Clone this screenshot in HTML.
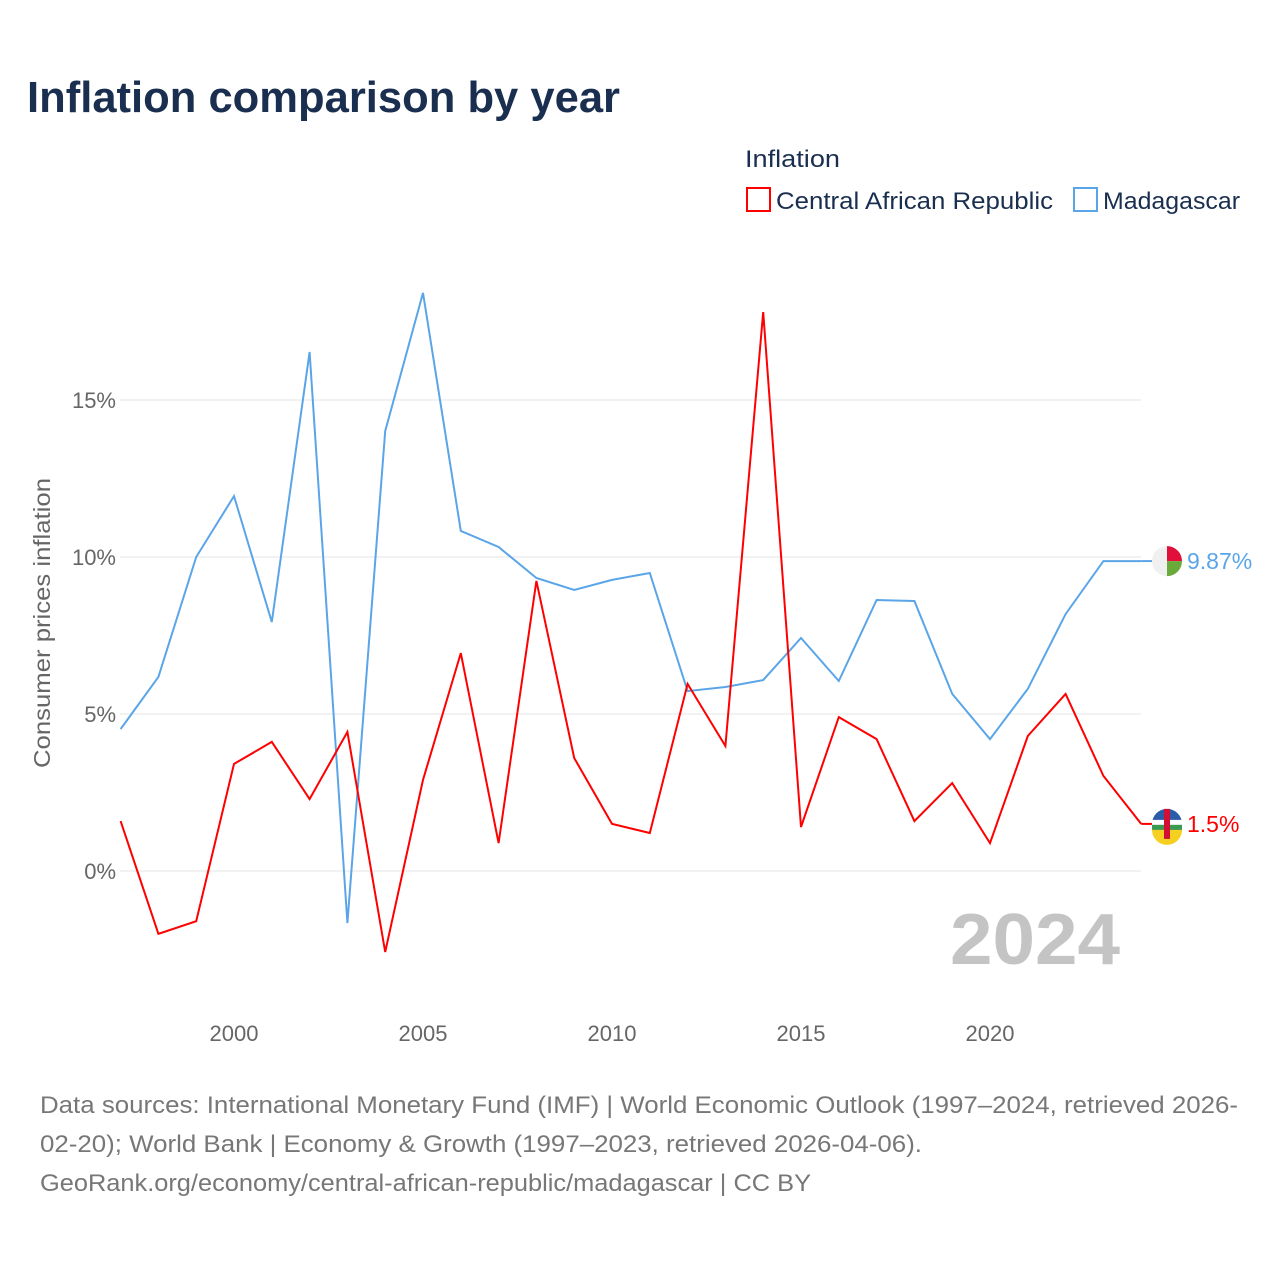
<!DOCTYPE html>
<html><head><meta charset="utf-8"><style>
body{margin:0;background:#fff;font-family:"Liberation Sans",sans-serif}
#wrap{position:relative;width:1280px;height:1280px;overflow:hidden}
</style></head><body>
<div id="wrap">
<svg id="chart" width="1280" height="1280">
<text x="27" y="112" font-size="44" font-weight="bold" fill="#1a2f50" textLength="593" lengthAdjust="spacingAndGlyphs">Inflation comparison by year</text>
<text x="745" y="167" font-size="24" fill="#1a2f50" textLength="95" lengthAdjust="spacingAndGlyphs">Inflation</text>
<g><rect x="747" y="188" width="23" height="23" fill="none" stroke="#ff0000" stroke-width="2"/><text x="776" y="209" font-size="24" fill="#1a2f50" textLength="277" lengthAdjust="spacingAndGlyphs">Central African Republic</text></g>
<g><rect x="1074" y="188" width="23" height="23" fill="none" stroke="#5aa5e8" stroke-width="2"/><text x="1103" y="209" font-size="24" fill="#1a2f50" textLength="137" lengthAdjust="spacingAndGlyphs">Madagascar</text></g>
<text transform="translate(50,623) rotate(-90)" text-anchor="middle" font-size="23" fill="#666" textLength="290" lengthAdjust="spacingAndGlyphs">Consumer prices inflation</text>
<text x="1120" y="964" text-anchor="end" font-size="72" font-weight="bold" fill="#c4c4c4" textLength="170" lengthAdjust="spacingAndGlyphs">2024</text>
<g id="grid"></g><g id="series"></g>
<text x="40" y="1113" font-size="24" fill="#777" textLength="1198" lengthAdjust="spacingAndGlyphs">Data sources: International Monetary Fund (IMF) | World Economic Outlook (1997–2024, retrieved 2026-</text>
<text x="40" y="1152" font-size="24" fill="#777" textLength="882" lengthAdjust="spacingAndGlyphs">02-20); World Bank | Economy &amp; Growth (1997–2023, retrieved 2026-04-06).</text>
<text x="40" y="1191" font-size="24" fill="#777" textLength="771" lengthAdjust="spacingAndGlyphs">GeoRank.org/economy/central-african-republic/madagascar | CC BY</text>
</svg></div>
<script>
const years=[1997,1998,1999,2000,2001,2002,2003,2004,2005,2006,2007,2008,2009,2010,2011,2012,2013,2014,2015,2016,2017,2018,2019,2020,2021,2022,2023,2024];
const madagascar=[4.52,6.18,10.0,11.94,7.93,16.53,-1.66,14.01,18.41,10.83,10.32,9.33,8.95,9.27,9.49,5.73,5.86,6.08,7.42,6.05,8.63,8.60,5.64,4.20,5.80,8.18,9.87,9.87];
const car=[1.59,-2.0,-1.6,3.41,4.11,2.29,4.43,-2.58,2.9,6.94,0.89,9.24,3.6,1.5,1.21,5.96,3.98,17.8,1.4,4.9,4.2,1.59,2.8,0.89,4.3,5.64,3.03,1.5];
const yTicks=[0,5,10,15];
const xTicks=[2000,2005,2010,2015,2020];
const ns="http://www.w3.org/2000/svg";
const xS=y=>234+(y-2000)*37.8;
const yS=v=>871-v*31.4;
const grid=document.getElementById('grid'),ser=document.getElementById('series');
function mk(tag,attrs,parent){const e=document.createElementNS(ns,tag);for(const k in attrs)e.setAttribute(k,attrs[k]);parent.appendChild(e);return e;}
yTicks.forEach(t=>{
 const l=mk('line',{x1:120,x2:1141,y1:yS(t),y2:yS(t),stroke:'#e6e6e6','stroke-width':1},grid);
 
 
 const tx=mk('text',{x:116,y:yS(t)+8,'text-anchor':'end','font-size':22,fill:'#666'},grid);
 tx.textContent=t+'%';
 
 
});
xTicks.forEach(t=>{
 const tx=mk('text',{x:xS(t),y:1041,'text-anchor':'middle','font-size':22,fill:'#666'},grid);
 tx.textContent=t;
 
 
});
function line(vals,color,name){
 const d=vals.map((v,i)=>(i?'L':'M')+xS(years[i]).toFixed(1)+' '+yS(v).toFixed(1)).join(' ');
 const p=mk('path',{d:d,fill:'none',stroke:color,'stroke-width':2},ser);
 
 
}
line(madagascar,'#5aa5e8','madagascar-line');
line(car,'#ff0000','car-line');
const lm=madagascar[madagascar.length-1],lc=car[car.length-1];
const x2=xS(2024);
mk('line',{x1:x2,x2:1152,y1:yS(lm),y2:yS(lm),stroke:'#5aa5e8','stroke-width':2},ser);
mk('line',{x1:x2,x2:1152,y1:yS(lc),y2:yS(lc),stroke:'#ff0000','stroke-width':2},ser);
const fm=mk('g',{},ser);


const cy=yS(lm);
mk('circle',{cx:1167,cy:cy,r:15,fill:'#f0f0f0'},fm);
mk('path',{d:`M1167 ${cy-15} A15 15 0 0 1 1182 ${cy} L1167 ${cy}Z`,fill:'#e0103a'},fm);
mk('path',{d:`M1167 ${cy} L1182 ${cy} A15 15 0 0 1 1167 ${cy+15}Z`,fill:'#6aaa3a'},fm);
const fc=mk('g',{},ser);


const cc=yS(lc);
mk('circle',{cx:1167,cy:cc,r:15,fill:'#2a5caa'},fc);
mk('rect',{x:1152,y:cc-4,width:30,height:5,fill:'#fff'},fc);
mk('rect',{x:1152,y:cc+1,width:30,height:5,fill:'#3a9a50'},fc);
mk('path',{d:`M1152 ${cc+6} L1182 ${cc+6} A15 15 0 0 1 1152 ${cc+6}Z`,fill:'#f5d020'},fc);
mk('rect',{x:1164,y:cc-15,width:6,height:30,fill:'#d21034'},fc);
const t1=mk('text',{x:1187,y:yS(lm)+8,'font-size':23,fill:'#5aa5e8'},ser);
t1.textContent=lm+'%';


const t2=mk('text',{x:1187,y:yS(lc)+8,'font-size':23,fill:'#ff0000'},ser);
t2.textContent=lc+'%';


</script>
</body></html>
